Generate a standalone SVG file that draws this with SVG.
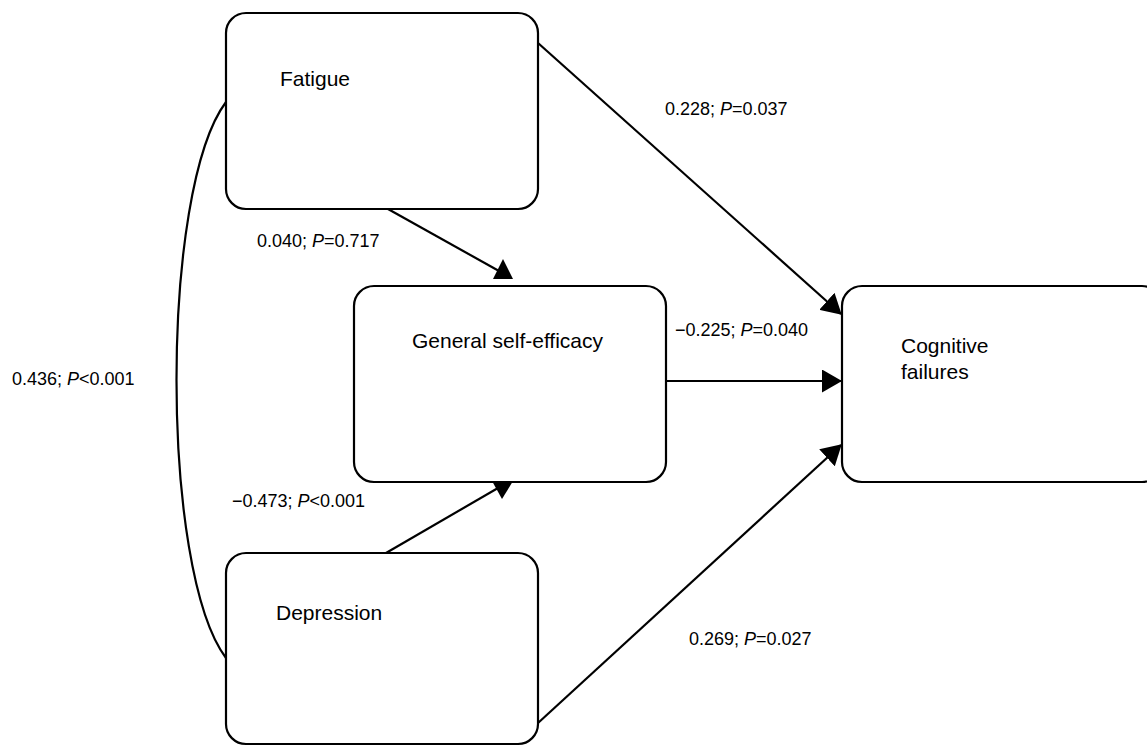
<svg xmlns="http://www.w3.org/2000/svg" width="1147" height="746" viewBox="0 0 1147 746">
<style>
.box{fill:#fff;stroke:#000;stroke-width:2.2}
.nt{font-family:"Liberation Sans",Arial,sans-serif;font-size:21px;fill:#000}
.lt{font-family:"Liberation Sans",Arial,sans-serif;font-size:18px;fill:#000}
.ln{fill:none;stroke:#000;stroke-width:2.2}
.ah{fill:#000;stroke:none}
</style>
<defs>
<marker id="arr" markerUnits="userSpaceOnUse" viewBox="0 0 20 23" refX="19" refY="11.5" markerWidth="20" markerHeight="23" orient="auto">
<path d="M0,0 L20,11.5 L0,23 z" fill="#000"/>
</marker>
</defs>
<rect width="1147" height="746" fill="#fff"/>
<g id="connectors">
<path class="ln" d="M226,102 C160,190 160,570 226,658"/>
<line class="ln" x1="538" y1="43" x2="841" y2="314" marker-end="url(#arr)"/>
<line class="ln" x1="666" y1="381" x2="841" y2="381" marker-end="url(#arr)"/>
<line class="ln" x1="538" y1="723" x2="841" y2="445" marker-end="url(#arr)"/>
<line class="ln" x1="388" y1="209" x2="499" y2="271"/>
<polygon class="ah" points="493,279 513,279 503,259"/>
<line class="ln" x1="386" y1="553" x2="498" y2="488"/>
<polygon class="ah" points="492,481 513,481 502,499"/>
</g>
<g id="fatigue">
<rect class="box" x="226" y="13" width="312" height="196" rx="20" ry="20"/>
<text class="nt" x="280" y="86">Fatigue</text>
</g>
<g id="gse">
<rect class="box" x="354" y="286" width="312" height="196" rx="20" ry="20"/>
<text class="nt" x="412" y="348">General self-efficacy</text>
</g>
<g id="depression">
<rect class="box" x="226" y="553" width="312" height="191" rx="20" ry="20"/>
<text class="nt" x="276" y="620">Depression</text>
</g>
<g id="cognitive">
<rect class="box" x="842" y="286" width="320" height="196" rx="20" ry="20"/>
<text class="nt" x="901" y="353">Cognitive</text>
<text class="nt" x="901" y="379">failures</text>
</g>
<g id="labels">
<text class="lt" x="665" y="115">0.228; <tspan font-style="italic">P</tspan>=0.037</text>
<text class="lt" x="257" y="247">0.040; <tspan font-style="italic">P</tspan>=0.717</text>
<text class="lt" x="675" y="336">−0.225; <tspan font-style="italic">P</tspan>=0.040</text>
<text class="lt" x="12" y="385">0.436; <tspan font-style="italic">P</tspan>&lt;0.001</text>
<text class="lt" x="232" y="507">−0.473; <tspan font-style="italic">P</tspan>&lt;0.001</text>
<text class="lt" x="689" y="645">0.269; <tspan font-style="italic">P</tspan>=0.027</text>
</g>
</svg>
